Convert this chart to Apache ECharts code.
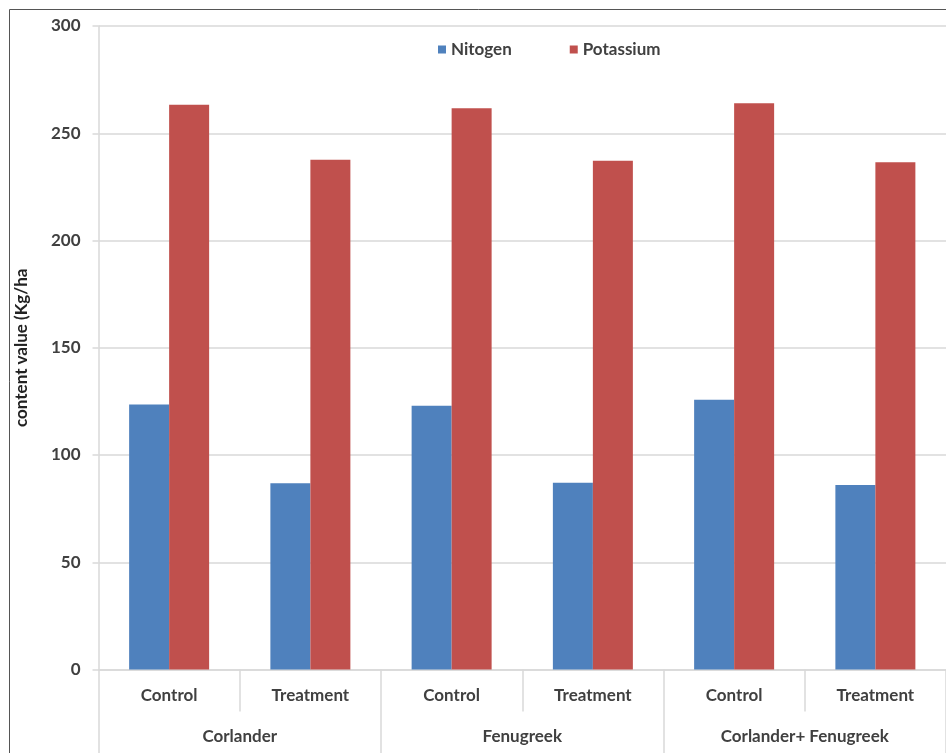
<!DOCTYPE html>
<html>
<head>
<meta charset="utf-8">
<script src="https://cdn.jsdelivr.net/npm/echarts@6/dist/echarts.min.js"></script>
<style>
  html, body { margin: 0; padding: 0; background: #fff; }
  #chart { width: 946px; height: 753px; }
</style>
</head>
<body>
<div id="chart"></div>
<script>
// Soil nutrient content by crop and treatment
const crops = ['Corlander', 'Fenugreek', 'Corlander+ Fenugreek'];
const treatments = ['Control', 'Treatment', 'Control', 'Treatment', 'Control', 'Treatment'];
const nitrogen = [123.5, 86.8, 123.0, 87.1, 125.7, 86.0];
const potassium = [263.3, 237.6, 261.7, 237.2, 264.0, 236.5];
const yTicks = [0, 50, 100, 150, 200, 250, 300];

const FONT = 'Lato';
const TEXT = '#404040';
const GRID = '#d9d9d9';
const LABEL_SIZE = 17;

const chart = echarts.init(document.getElementById('chart'));
chart.setOption({
  animation: false,
  backgroundColor: '#fff',
  textStyle: { fontFamily: FONT },
  graphic: [{
    type: 'rect',
    shape: { x: 9.5, y: 9.5, width: 1000, height: 1000 },
    style: { fill: 'none', stroke: '#555', lineWidth: 1 },
    silent: true
  }],
  legend: {
    data: ['Nitogen', 'Potassium'],
    left: 433,
    top: 36,
    icon: 'rect',
    itemWidth: 8,
    itemHeight: 8,
    itemGap: 58,
    textStyle: { fontFamily: FONT, fontWeight: 'bold', fontSize: LABEL_SIZE, color: TEXT }
  },
  grid: { left: 98.5, right: -7, top: 26, bottom: 83.5, containLabel: false },
  xAxis: [{
    type: 'category',
    data: treatments,
    position: 'bottom',
    axisLine: { show: true, lineStyle: { color: GRID, width: 1.5 } },
    axisTick: { show: true, interval: 0, length: 42, lineStyle: { color: GRID, width: 1.5 } },
    axisLabel: { interval: 0, margin: 18, fontFamily: FONT, fontWeight: 'bold', fontSize: LABEL_SIZE, color: TEXT }
  }, {
    type: 'category',
    data: crops,
    position: 'bottom',
    axisLine: { show: false },
    axisTick: { show: true, interval: 0, length: 90, lineStyle: { color: GRID, width: 1.5 } },
    axisLabel: { interval: 0, margin: 59, fontFamily: FONT, fontWeight: 'bold', fontSize: LABEL_SIZE, color: TEXT }
  }],
  yAxis: {
    type: 'value',
    min: yTicks[0],
    max: yTicks[yTicks.length - 1],
    interval: yTicks[1] - yTicks[0],
    name: 'content value (Kg/ha',
    nameLocation: 'middle',
    nameGap: 68,
    nameTextStyle: { fontFamily: FONT, fontWeight: 'bold', fontSize: 17, color: '#222' },
    axisLine: { show: true, lineStyle: { color: GRID, width: 1.5 } },
    axisTick: { show: true, length: 6, lineStyle: { color: GRID, width: 1.5 } },
    axisLabel: { margin: 18, fontFamily: FONT, fontWeight: 'bold', fontSize: LABEL_SIZE, color: TEXT },
    splitLine: { show: true, lineStyle: { color: GRID, width: 1.5 } }
  },
  series: [{
    name: 'Nitogen',
    type: 'bar',
    data: nitrogen,
    barWidth: 40,
    barGap: '0%',
    itemStyle: { color: '#4f81bd' }
  }, {
    name: 'Potassium',
    type: 'bar',
    data: potassium,
    barWidth: 40,
    barGap: '0%',
    itemStyle: { color: '#c0504d' }
  }]
});
</script>
</body>
</html>
